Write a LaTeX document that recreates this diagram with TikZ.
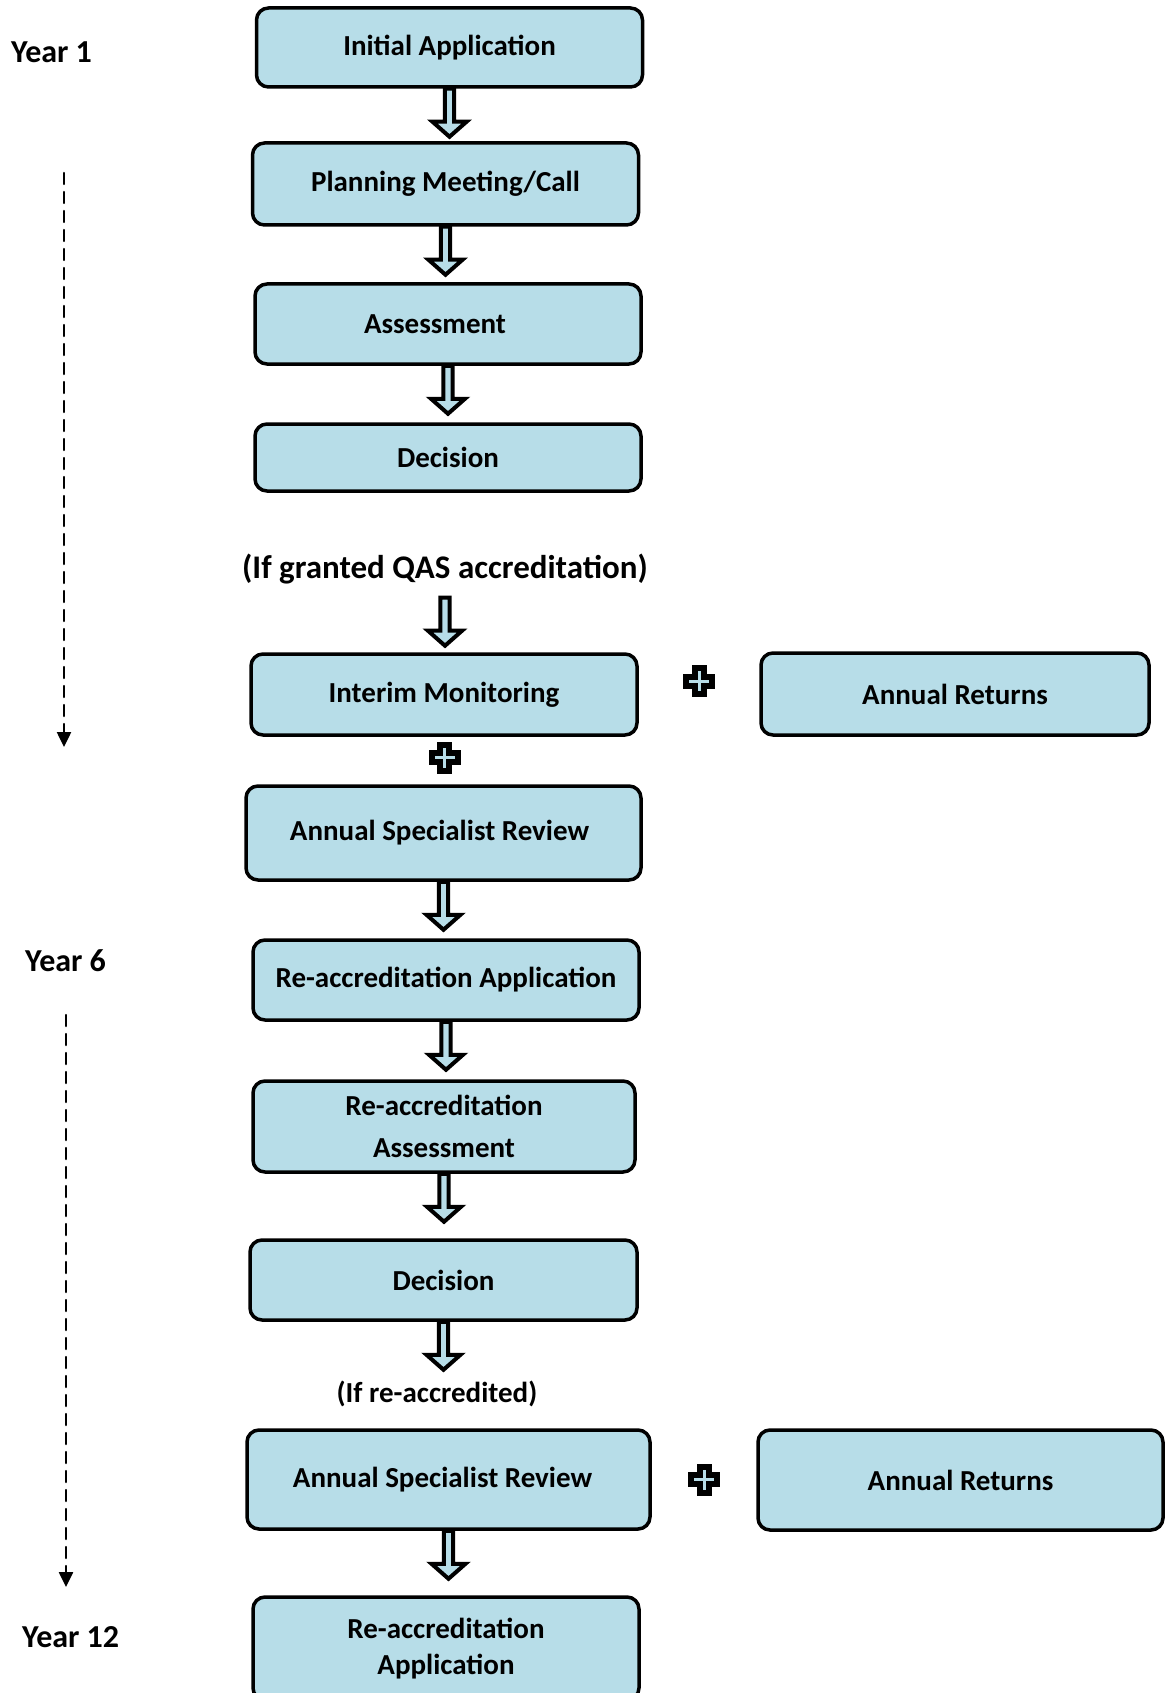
\documentclass[tikz,border=0pt]{standalone}
\usepackage{fontspec}
\setmainfont{Carlito}
\usetikzlibrary{calc,arrows.meta}
\definecolor{boxblue}{HTML}{B7DDE8}
\tikzset{
	stage/.style={draw, line width=3.5pt, rounded corners=12pt, fill=boxblue,
		minimum width=386pt, minimum height=80pt, align=center,
		font=\bfseries\fontsize{29}{36}\selectfont},
	note/.style={font=\bfseries\fontsize{29}{35}\selectfont},
	yearlbl/.style={anchor=west, inner sep=0pt, font=\bfseries\fontsize{32}{38}\selectfont},
	timeline/.style={line width=2.5pt, dash pattern=on 11pt off 8pt, -{Triangle[length=15pt,width=14pt]}},
	blockarrow/.pic={\draw[line width=4pt, line join=miter, fill=boxblue]
		(-4.7,0)--(-4.7,-33)--(-17,-33)--(0,-48)--(17,-33)--(4.7,-33)--(4.7,0)--cycle;},
	plussign/.pic={\draw[line width=6pt, line join=miter, fill=boxblue]
		(-4.5,13)--(4.5,13)--(4.5,4.5)--(13,4.5)--(13,-4.5)--(4.5,-4.5)--(4.5,-13)
		--(-4.5,-13)--(-4.5,-4.5)--(-13,-4.5)--(-13,4.5)--(-4.5,4.5)--cycle;}
}
\begin{document}
\begin{tikzpicture}[x=1pt,y=1pt,line cap=round]
	\useasboundingbox (0,0) rectangle (1171,-1693);
	\clip (0,0) rectangle (1171,-1693);
	% years
	\node[yearlbl] (y1) at (11,-52) {Year 1};
	\node[yearlbl] (y6) at (25,-961) {Year 6};
	\node[yearlbl] (y12) at (22,-1637) {Year 12};
	\coordinate (t1a) at (64,-173); \coordinate (t1b) at (64,-747);
	\coordinate (t2a) at (66,-1015); \coordinate (t2b) at (66,-1587);
	\draw[timeline] (t1a)--(t1b);
	\draw[timeline] (t2a)--(t2b);
	% first cycle
	\node[stage, minimum height=79pt] (ia) at (449.5,-47.5) {Initial Application};
	\node[stage, minimum height=82pt] (pm) at (445.5,-184) {Planning Meeting/Call};
	\node[stage] (as) at (448,-324) {Assessment\hspace*{26pt}};
	\node[stage, minimum height=67pt] (dec) at (448,-457.5) {Decision};
	\node[note, font=\bfseries\fontsize{33}{40}\selectfont, inner sep=0pt] (granted) at (445,-569) {(If granted QAS accreditation)};
	\node[stage, minimum height=81pt] (im) at (444,-694.5) {Interim Monitoring};
	\node[stage, minimum width=388pt, minimum height=82pt] (ar) at (955,-694) {Annual Returns};
	\node[stage, minimum width=395pt, minimum height=94pt] (asr) at (443.5,-833) {Annual Specialist Review\hspace*{8pt}};
	% re-accreditation
	\node[stage] (raa) at (446,-980) {Re-accreditation Application};
	\node[stage, minimum width=382pt, minimum height=91pt] (raas) at (444,-1126.5) {Re-accreditation\\[6pt]Assessment};
	\node[stage, minimum width=387pt] (dec2) at (443.5,-1280) {Decision};
	\node[note] (reacc) at (437,-1394) {(If re-accredited)};
	\node[stage, minimum width=403pt, minimum height=99pt] (asr2) at (448.5,-1479.5) {Annual Specialist Review\hspace*{12pt}};
	\node[stage, minimum width=405pt, minimum height=100pt] (ar2) at (960.5,-1480) {Annual Returns};
	\node[stage, minimum height=103pt] (raa2) at (446,-1648.5) {Re-accreditation\\Application};
	% block arrows
	\foreach \n in {ia,pm,as,asr,raa,raas,dec2,asr2}
	\pic at (\n.south) {blockarrow};
	\pic at ([yshift=-13.5pt]granted.south) {blockarrow};
	% plus signs
	\pic at ($(im.east)!0.5!(ar.west)+(0,13)$) {plussign};
	\pic at ($(im.south)!0.5!(asr.north)+(1,3)$) {plussign};
	\pic at ($(asr2.east)!0.5!(ar2.west)$) {plussign};
\end{tikzpicture}
\end{document}
